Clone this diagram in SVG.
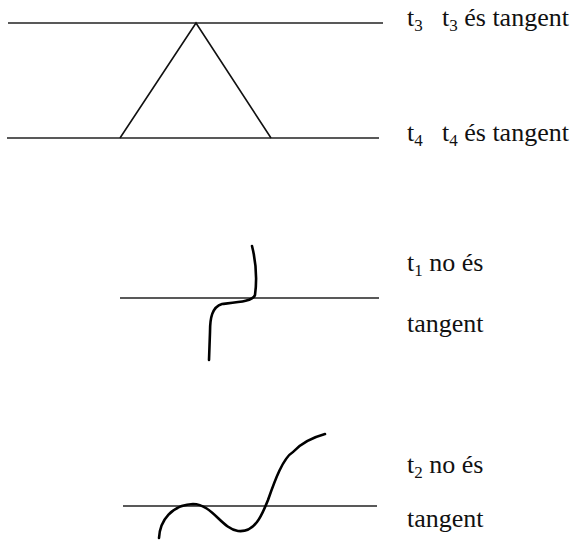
<svg xmlns="http://www.w3.org/2000/svg" width="574" height="541" viewBox="0 0 574 541">
<style>
.ln{stroke:#222;stroke-width:1.3;fill:none}
.tri{stroke:#111;stroke-width:1.6;fill:none;stroke-linejoin:miter}
.cv{stroke:#000;stroke-width:2.6;fill:none;stroke-linecap:round;stroke-linejoin:round}
.t{font-family:"Liberation Serif","Times New Roman",serif;font-size:26px;fill:#111}
.sub{font-size:17px}
</style>
<rect width="574" height="541" fill="#fff"/>
<g id="top">
<line class="ln" x1="8" y1="23" x2="383" y2="23"/>
<line class="ln" x1="7" y1="138" x2="379" y2="138"/>
<polyline class="tri" points="120,138 196,23 271,138"/>
<text class="t" x="407" y="26">t<tspan class="sub" dy="5">3</tspan></text>
<text class="t" x="442" y="26">t<tspan class="sub" dy="5">3</tspan><tspan dy="-5"> és tangent</tspan></text>
<text class="t" x="407" y="141">t<tspan class="sub" dy="5">4</tspan></text>
<text class="t" x="442" y="141">t<tspan class="sub" dy="5">4</tspan><tspan dy="-5"> és tangent</tspan></text>
</g>
<g id="middle">
<line class="ln" x1="120" y1="298" x2="379" y2="298"/>
<path class="cv" d="M252,246 C256,262 257,280 255,295 C253,301 240,302 222,304 C212,307 210,318 210,332 L209,360"/>
<text class="t" x="407" y="271">t<tspan class="sub" dy="5">1</tspan><tspan dy="-5"> no és</tspan></text>
<text class="t" x="407" y="332">tangent</text>
</g>
<g id="bottom">
<line class="ln" x1="123" y1="506" x2="377" y2="506"/>
<path class="cv" d="M159,538 C160,520 172,505 193,504 C212,504 222,529 238,531 C255,533 262,515 268,500 C275,480 283,458 293,452 C302,442 314,437 325,434"/>
<text class="t" x="407" y="473">t<tspan class="sub" dy="5">2</tspan><tspan dy="-5"> no és</tspan></text>
<text class="t" x="407" y="527">tangent</text>
</g>
</svg>
